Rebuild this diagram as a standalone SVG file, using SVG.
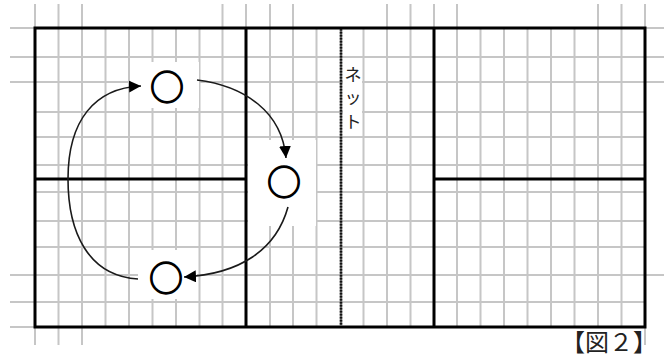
<svg xmlns="http://www.w3.org/2000/svg" width="664" height="358" viewBox="0 0 664 358">
<style>
.grid{stroke:#c6c6c6;stroke-width:2;fill:none}
.court{stroke:#000;stroke-width:3;fill:none}
.net{stroke:#666;stroke-width:2.5;fill:none}
.netdot{stroke:#111;stroke-width:2.5;stroke-dasharray:1.5 1.5;fill:none}
.arc{stroke:#1a1a1a;stroke-width:1.6;fill:none}
.mark{font-family:"Noto Sans CJK JP","Noto Sans",sans-serif;font-size:34px;fill:#000;stroke:#000;stroke-width:1.3;text-anchor:middle;dominant-baseline:central}
.lbl{font-family:"Noto Sans CJK JP","Noto Sans",sans-serif;fill:#222}
</style>
<defs>
<marker id="ah" markerUnits="userSpaceOnUse" markerWidth="14" markerHeight="14" refX="12" refY="6" orient="auto">
<path d="M0,0 L12,6 L0,12 z" fill="#000"/>
</marker>
</defs>
<rect width="664" height="358" fill="#fff"/>
<g id="grid">
<path class="grid" d="M58.5,28V327 M82,28V327 M105.5,28V327 M129,28V327 M152.5,28V327 M176,28V327 M199.5,28V327 M222.5,28V327 M270,28V327 M293,28V327 M316.5,28V327 M363.5,28V327 M387,28V327 M410.5,28V327 M457,28V327 M480.5,28V327 M504,28V327 M527.5,28V327 M551,28V327 M574.5,28V327 M598,28V327 M621.5,28V327"/>
<path class="grid" d="M35,57H645 M35,82H645 M35,112H645 M35,137H645 M35,165H645 M35,192H645 M35,221H645 M35,247H645 M35,275H645 M35,302H645"/>
<path class="grid" d="M35,4V28 M58.5,4V28 M82,4V28 M222.5,4V28 M246,4V28 M270,4V28 M293,4V28 M387,4V28 M410.5,4V28 M434,4V28 M457,4V28 M598,4V28 M621.5,4V28 M645,4V28"/>
<path class="grid" d="M10,28H35 M10,57H35 M10,82H35 M10,275H35 M10,302H35 M10,327H35 M645,28H664 M645,57H664 M645,82H664 M645,275H664"/>
<path class="grid" d="M35,327V345 M58.5,327V345 M82,327V345 M645,327V345"/>
</g>
<g id="masks" fill="#fff">
<rect x="131" y="62" width="68" height="46"/>
<rect x="248" y="140" width="68" height="86"/>
<rect x="138" y="250" width="59" height="49"/>
<rect x="343" y="62" width="19" height="70"/>
</g>
<g id="court">
<rect class="court" x="35" y="28" width="610" height="299"/>
<path class="court" d="M246,28V327 M434,28V327 M35,179H246 M434,179H645"/>
<path class="net" d="M341,29V326"/>
<path class="netdot" d="M341,29V326"/>
</g>
<g id="connectors">
<path class="arc" marker-end="url(#ah)" d="M138,279 C88,276 68,232 68,179 C68,120 95,88 141,86"/>
<path class="arc" marker-end="url(#ah)" d="M197,80 C245,86 282,112 286,158"/>
<path class="arc" marker-end="url(#ah)" d="M288,207 C276,250 240,274 184,277"/>
</g>
<g id="p1"><text class="mark" x="167" y="85">○</text></g>
<g id="p2"><text class="mark" x="284" y="180">○</text></g>
<g id="p3"><text class="mark" x="166" y="276">○</text></g>
<g id="net-label">
<text class="lbl" font-size="17" text-anchor="middle"><tspan x="353" y="81">ネ</tspan><tspan x="353" y="104">ッ</tspan><tspan x="353" y="128">ト</tspan></text>
</g>
<g id="caption">
<text class="lbl" x="561" y="351" font-size="24" fill="#000">【図２】</text>
</g>
</svg>
